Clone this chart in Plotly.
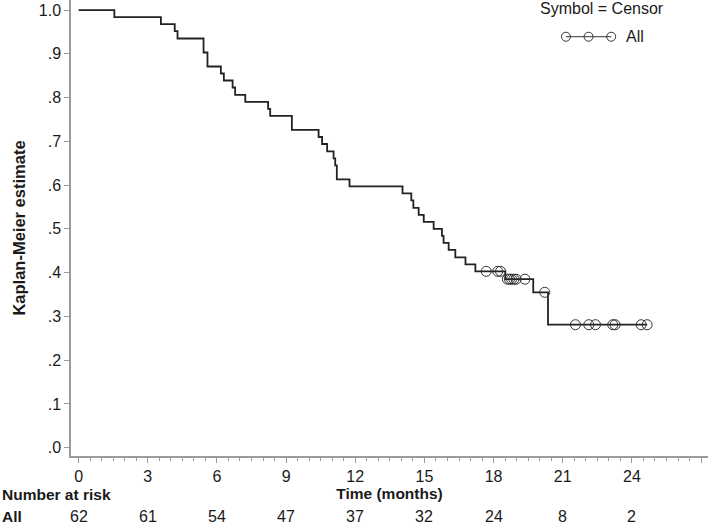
import plotly.graph_objects as go

# Kaplan-Meier step curve (time in months, survival estimate)
km_time = [0, 1.55, 3.57, 4.17, 4.29, 5.42, 5.59, 6.17, 6.30, 6.68, 6.79, 7.23, 8.22, 8.31,
           9.25, 10.41, 10.56, 10.78, 11.06, 11.13, 11.20, 11.75, 14.05, 14.43, 14.52, 14.75,
           14.97, 15.40, 15.76, 15.83, 16.05, 16.34, 16.78, 17.21, 18.51, 19.72, 20.36, 24.66]
km_surv = [1.000, 0.984, 0.968, 0.952, 0.935, 0.903, 0.871, 0.855, 0.839, 0.823, 0.806, 0.790,
           0.774, 0.758, 0.726, 0.710, 0.694, 0.677, 0.661, 0.645, 0.613, 0.597, 0.581, 0.565,
           0.548, 0.532, 0.516, 0.500, 0.484, 0.468, 0.452, 0.435, 0.419, 0.403, 0.385, 0.355,
           0.281, 0.281]

# Censored observations
censor_time = [17.68, 18.18, 18.30, 18.60, 18.69, 18.78, 18.88, 18.98, 19.36, 20.22,
               21.55, 22.13, 22.42, 23.17, 23.27, 24.40, 24.66]
censor_surv = [0.403, 0.403, 0.403, 0.385, 0.385, 0.385, 0.385, 0.385, 0.385, 0.355,
               0.281, 0.281, 0.281, 0.281, 0.281, 0.281, 0.281]

# Number at risk table
risk_time = [0, 3, 6, 9, 12, 15, 18, 21, 24]
risk_count = [62, 61, 54, 47, 37, 32, 24, 8, 2]

x_ticks = [0, 3, 6, 9, 12, 15, 18, 21, 24, 27]
y_ticks = [0, 0.1, 0.2, 0.3, 0.4, 0.5, 0.6, 0.7, 0.8, 0.9, 1.0]
y_ticktext = [".0", ".1", ".2", ".3", ".4", ".5", ".6", ".7", ".8", ".9", "1.0"]

FONT = "Liberation Sans, Arial, Helvetica, sans-serif"
TXT = "#1a1a1a"
AXC = "#9a9a9a"
FS = 16
FSB = 15.5

fig = go.Figure()
fig.add_trace(go.Scatter(x=km_time, y=km_surv, mode="lines", line_shape="hv",
                         line=dict(color="#222222", width=1.8), name="All",
                         showlegend=False, hoverinfo="x+y"))
fig.add_trace(go.Scatter(x=censor_time, y=censor_surv, mode="markers",
                         marker=dict(symbol="circle-open", size=10,
                                     color="#333333", line=dict(width=1, color="#333333")),
                         name="Censor", showlegend=False))

# Number at risk row
for t, n in zip(risk_time, risk_count):
    fig.add_annotation(x=t, y=-0.133, xref="x", yref="paper", text=str(n),
                       showarrow=False, xanchor="center", yanchor="middle",
                       font=dict(size=FS, color=TXT, family=FONT))
fig.add_annotation(x=-0.1115, y=-0.133, xref="paper", yref="paper", text="<b>All</b>",
                   showarrow=False, xanchor="left", yanchor="middle",
                   font=dict(size=FSB, color=TXT, family=FONT))
fig.add_annotation(x=-0.1115, y=-0.0855, xref="paper", yref="paper",
                   text="<b>Number at risk</b>", showarrow=False, xanchor="left",
                   yanchor="middle", font=dict(size=FSB, color=TXT, family=FONT))

# Legend (drawn)
fig.add_annotation(x=0.8336, y=0.982, xref="paper", yref="paper", text="Symbol = Censor",
                   showarrow=False, xanchor="center", yanchor="middle",
                   font=dict(size=FS, color=TXT, family=FONT))
leg_y = 0.9195
fig.add_shape(type="line", xref="paper", yref="paper", x0=0.777, x1=0.848, y0=leg_y, y1=leg_y,
              line=dict(color="#333333", width=1))
for lx in [0.777, 0.8125, 0.848]:
    fig.add_shape(type="circle", xref="paper", yref="paper", xsizemode="pixel",
                  ysizemode="pixel", xanchor=lx, yanchor=leg_y, x0=-4.5, x1=4.5,
                  y0=-4.5, y1=4.5, line=dict(color="#333333", width=1),
                  fillcolor="rgba(0,0,0,0)")
fig.add_annotation(x=0.868, y=leg_y, xref="paper", yref="paper", text="All",
                   showarrow=False, xanchor="left", yanchor="middle",
                   font=dict(size=FS, color=TXT, family=FONT))

fig.update_xaxes(range=[-0.33, 27.3], tickvals=x_ticks, ticks="outside", ticklen=5,
                 tickcolor=AXC, tickwidth=1, showline=True, linecolor=AXC, linewidth=1.5,
                 showgrid=False, zeroline=False,
                 minor=dict(dtick=0.5, ticks="outside", ticklen=3, tickcolor=AXC, tickwidth=1,
                            showgrid=False),
                 tickfont=dict(size=FS, color=TXT, family=FONT),
                 title=dict(text="<b>Time (months)</b>", standoff=4,
                            font=dict(size=FSB, color=TXT, family=FONT)))
fig.update_yaxes(range=[-0.019, 1.023], tickvals=y_ticks, ticktext=y_ticktext,
                 ticks="outside", ticklen=5, tickcolor=AXC, tickwidth=1, showline=True,
                 linecolor=AXC, linewidth=1.5, showgrid=False, zeroline=False,
                 tickfont=dict(size=FS, color=TXT, family=FONT),
                 title=dict(text="<b>Kaplan-Meier estimate</b>", standoff=9,
                            font=dict(size=16.5, color=TXT, family=FONT)))

fig.update_layout(width=709, height=525, margin=dict(l=71, r=1, t=0, b=69),
                  plot_bgcolor="white", paper_bgcolor="white", showlegend=False,
                  font=dict(family=FONT, color=TXT))

fig.write_html("out.html", config={"displayModeBar": False},
               post_script="document.body.style.margin='0';document.body.style.padding='0';")
